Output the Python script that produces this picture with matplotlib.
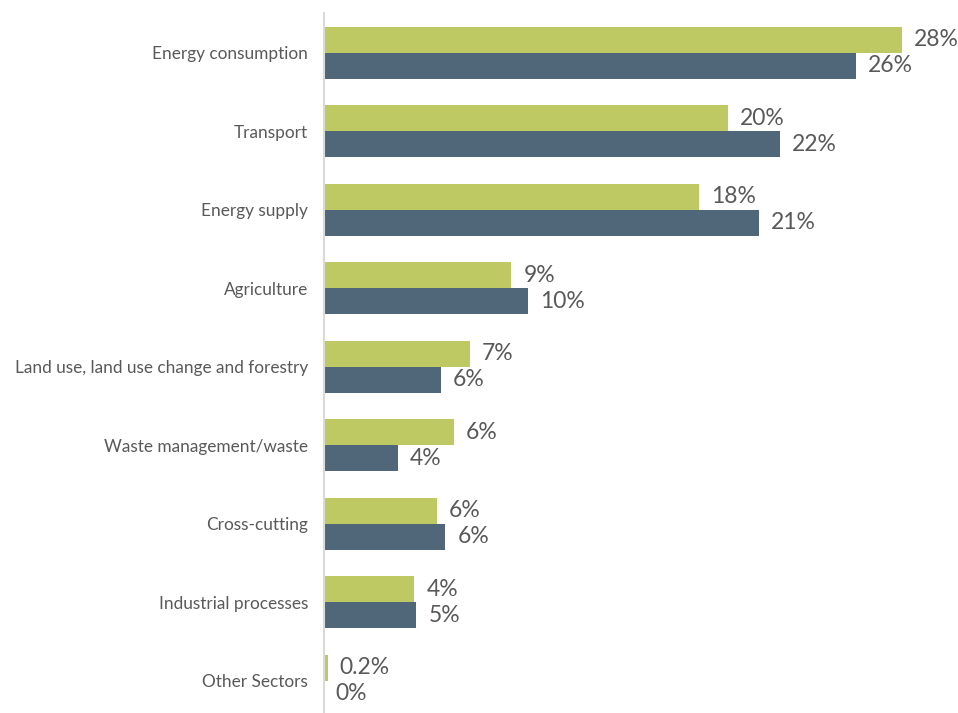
import matplotlib
matplotlib.use("Agg")
import matplotlib.pyplot as plt
import numpy as np

# Share of actions by sector, two series
categories = [
    "Energy consumption",
    "Transport",
    "Energy supply",
    "Agriculture",
    "Land use, land use change and forestry",
    "Waste management/waste",
    "Cross-cutting",
    "Industrial processes",
    "Other Sectors",
]
series_a = [28.0, 19.6, 18.2, 9.1, 7.1, 6.3, 5.5, 4.4, 0.2]   # green
series_b = [25.8, 22.1, 21.1, 9.9, 5.7, 3.6, 5.9, 4.5, 0.0]   # blue

GREEN = "#BFC963"
BLUE = "#506679"
TEXT = "#595959"
FONT = "Lato"


def pct_label(v):
    if 0 < v < 1:
        return f"{v:.1f}%"
    return f"{int(np.floor(v + 0.5))}%"


W, H = 958, 713
fig = plt.figure(figsize=(W / 100, H / 100), dpi=100)

axis_x = 323.5
px_per_unit = 20.65
xmax = 30
ax = fig.add_axes([axis_x / W, 0.0, xmax * px_per_unit / W, 1 - 13.5 / H])

y = np.arange(len(categories))
h = 0.331
ax.barh(y - h / 2, series_a, height=h, color=GREEN, zorder=2)
ax.barh(y + h / 2, series_b, height=h, color=BLUE, zorder=2)

ax.set_xlim(0, xmax)
ax.set_ylim((713 - 53) / 78.5, -0.5)

ax.set_yticks(y)
ax.set_yticklabels(categories, fontsize=12.4, color=TEXT, family=FONT)
ax.tick_params(axis="y", length=0, pad=11)
ax.set_xticks([])

for s in ["top", "right", "bottom"]:
    ax.spines[s].set_visible(False)
ax.spines["left"].set_color("#D9D9D9")
ax.spines["left"].set_linewidth(1.5)
ax.spines["left"].set_zorder(3)

offset = 12 / px_per_unit
for yi, va, vb in zip(y, series_a, series_b):
    ax.text(va + offset, yi - h / 2, pct_label(va), va="center", ha="left",
            fontsize=16.5, color=TEXT, family=FONT)
    ax.text(vb + offset, yi + h / 2, pct_label(vb), va="center", ha="left",
            fontsize=16.5, color=TEXT, family=FONT)

fig.savefig("out.png", dpi=100)
